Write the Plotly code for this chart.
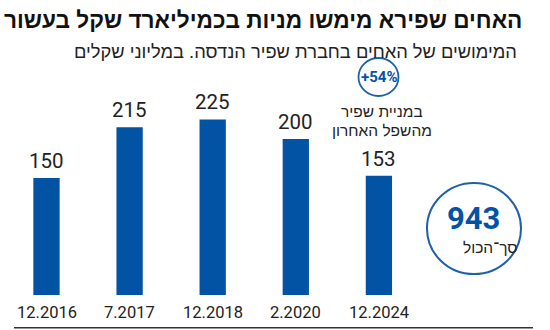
import plotly.graph_objects as go

categories = ["12.2016", "7.2017", "12.2018", "2.2020", "12.2024"]
values = [150, 215, 225, 200, 153]
title_text = "האחים שפירא מימשו מניות בכמיליארד שקל בעשור"
subtitle_text = "המימושים של האחים בחברת שפיר הנדסה. במליוני שקלים"
total_value = "943"
total_label = "סך־הכול"
change_text = "+54%"
change_note = ["במניית שפיר", "מהשפל האחרון"]

W, H = 550, 330
BLUE = "#0353a4"
CIRC = "#1f60a8"
NUM = "Roboto, sans-serif"
HEB = "Liberation Sans, Arial, sans-serif"

def px(x):
    return x / W

def py(y):
    return 1 - y / H

fig = go.Figure()
fig.add_trace(go.Bar(
    x=list(range(len(categories))), y=values, width=0.3165,
    marker=dict(color=BLUE, line=dict(width=0)),
    hoverinfo="skip",
))

ann = []
for i, (c, v) in enumerate(zip(categories, values)):
    ann.append(dict(x=i, y=v, xref="x", yref="y", text=str(v), showarrow=False,
                    yanchor="bottom", yshift=3,
                    font=dict(family=NUM, size=20.5, color="#222")))
    ann.append(dict(x=i, y=py(312.6), xref="x", yref="paper", text=c, showarrow=False,
                    yanchor="middle",
                    font=dict(family=NUM, size=16.5, color="#222")))

ann += [
    dict(x=px(524), y=py(21), xref="paper", yref="paper", text="<b>" + title_text + "</b>",
         showarrow=False, xanchor="right", yanchor="middle",
         font=dict(family=HEB, size=22.6, color="#111")),
    dict(x=px(519), y=py(51), xref="paper", yref="paper", text=subtitle_text,
         showarrow=False, xanchor="right", yanchor="middle",
         font=dict(family=HEB, size=18.3, color="#222")),
    dict(x=px(378.5), y=py(77), xref="paper", yref="paper", text="<b>" + change_text + "</b>",
         showarrow=False, xanchor="center", yanchor="middle",
         font=dict(family=NUM, size=15, color=BLUE)),
    dict(x=px(381.5), y=py(111), xref="paper", yref="paper", text=change_note[0],
         showarrow=False, xanchor="center", yanchor="middle",
         font=dict(family=HEB, size=15.5, color="#222")),
    dict(x=px(381.5), y=py(130), xref="paper", yref="paper", text=change_note[1],
         showarrow=False, xanchor="center", yanchor="middle",
         font=dict(family=HEB, size=15.5, color="#222")),
    dict(x=px(473), y=py(218.5), xref="paper", yref="paper", text="<b>" + total_value + "</b>",
         showarrow=False, xanchor="center", yanchor="middle",
         font=dict(family=NUM, size=31, color=BLUE)),
    dict(x=px(490), y=py(247.5), xref="paper", yref="paper", text=total_label,
         showarrow=False, xanchor="center", yanchor="middle",
         font=dict(family=HEB, size=15.5, color="#222")),
]

shapes = [
    dict(type="line", xref="paper", yref="paper", x0=px(14), x1=px(533), y0=py(327.7), y1=py(327.7),
         line=dict(color="#333", width=1.5)),
    dict(type="circle", xref="paper", yref="paper", x0=px(378.5 - 20), x1=px(378.5 + 20),
         y0=py(77 - 19), y1=py(77 + 19), line=dict(color=CIRC, width=1.8)),
    dict(type="circle", xref="paper", yref="paper", x0=px(474 - 47), x1=px(474 + 47),
         y0=py(228.5 - 45.5), y1=py(228.5 + 45.5), line=dict(color=CIRC, width=2)),
]

fig.update_layout(
    width=W, height=H, margin=dict(l=0, r=0, t=0, b=0),
    paper_bgcolor="white", plot_bgcolor="white", showlegend=False,
    xaxis=dict(range=[-0.5596, 6.059], visible=False, fixedrange=True),
    yaxis=dict(range=[-44.9, 378.2], visible=False, fixedrange=True),
    annotations=ann, shapes=shapes,
)

fig.write_html("out.html", config={"displayModeBar": False})
